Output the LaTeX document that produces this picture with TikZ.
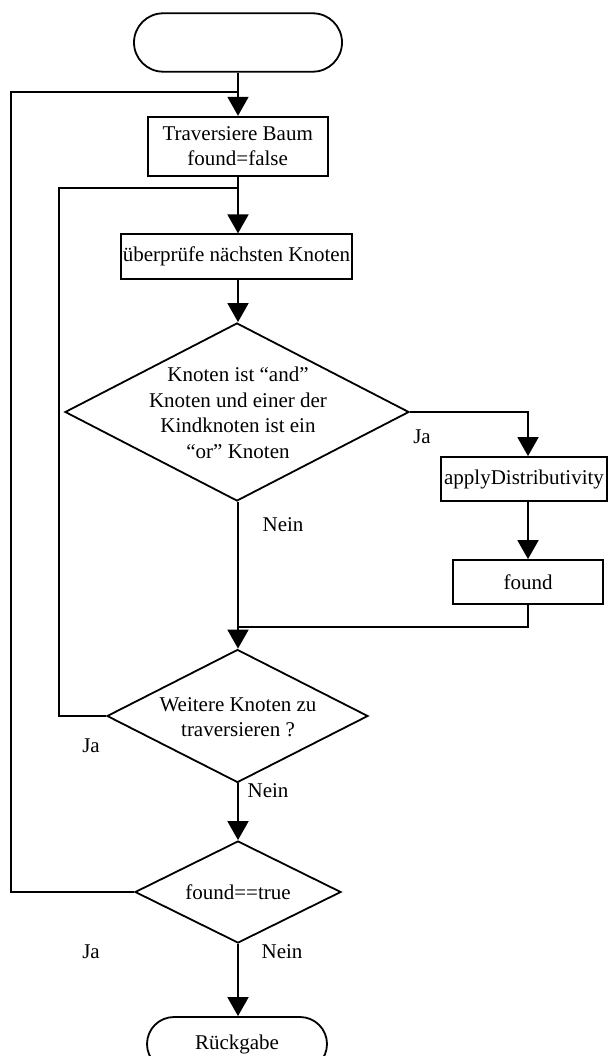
\documentclass[tikz,border=0pt]{standalone}
\usepackage{fontspec}
\setmainfont{Liberation Serif}
\usetikzlibrary{arrows.meta,shapes.geometric}
\begin{document}
\begin{tikzpicture}[x=1pt,y=-1pt,
  every node/.style={font=\fontsize{21}{25.5}\selectfont, inner sep=0pt},
  line/.style={line width=1.8pt, line join=miter},
  arr/.style={line, -{Triangle[length=19pt,width=21pt]}},
  stepbox/.style={draw, line width=1.8pt, rectangle, align=center},
  term/.style={draw, line width=1.8pt, rectangle},
  decision/.style={draw, line width=1.8pt, diamond, inner sep=0pt},
  lbl/.style={}]
\useasboundingbox (0,0) rectangle (608,1056);
\clip (0,0) rectangle (608,1056);

% start / end terminals
\node[term, minimum width=208pt, minimum height=58.4pt, rounded corners=29.2pt] (start) at (238,42.5) {};
\node[term, minimum width=180pt, minimum height=54pt, rounded corners=27pt] (ret) at (237,1044) {Rückgabe};

% process boxes
\node[stepbox, minimum width=180pt, minimum height=59pt] (trav) at (237.7,146.2) {Traversiere Baum\\found=false};
\node[stepbox, minimum width=231pt, minimum height=45pt] (check) at (236.5,256.8) {überprüfe nächsten Knoten};
\node[stepbox, minimum width=166pt, minimum height=44pt] (apply) at (524,479) {applyDistributivity};
\node[stepbox, minimum width=150pt, minimum height=44pt] (found) at (528,582) {found};

% decisions
\node[decision, minimum width=344pt, minimum height=178pt] (d1) at (237,412) {};
\node[align=center] (d1txt) at (238,413) {Knoten ist “and”\\Knoten und einer der\\Kindknoten ist ein\\“or” Knoten};
\node[decision, minimum width=261pt, minimum height=133pt] (d2) at (237.5,716) {};
\node[align=center] (d2txt) at (238,717) {Weitere Knoten zu\\traversieren ?};
\node[decision, minimum width=206pt, minimum height=102pt] (fd) at (238,892) {};
\node (fdtxt) at (238,892) {found==true};

% junction points
\coordinate (j1) at (238,91.7);
\coordinate (j2) at (238,187.7);
\coordinate (j3) at (238,627);

% branch labels
\node[lbl] (ja1) at (422,437) {Ja};
\node[lbl] (nein1) at (283,525) {Nein};
\node[lbl] (ja2) at (91,746) {Ja};
\node[lbl] (nein2) at (268,791) {Nein};
\node[lbl] (ja3) at (91,952) {Ja};
\node[lbl] (nein3) at (282,952) {Nein};

% main flow
\draw[arr] (start.south) -- (trav.north -| start.south);
\draw[arr] (trav.south -| start.south) -- (check.north -| start.south);
\draw[arr] (check.south -| start.south) -- (d1.north -| start.south);
\draw[arr] (d1.south -| start.south) -- (d2.north -| start.south);
\draw[arr] (d2.south -| start.south) -- (fd.north -| start.south);
\draw[arr] (fd.south -| start.south) -- (ret.north -| start.south);

% yes branch of the first decision
\draw[arr] (d1.east) -| ([xshift=4pt]apply.north);
\draw[arr] (found.north |- apply.south) -- (found.north);
\draw[line] (found.south) |- (j3);

% loops back
\draw[line] (d2.west) -| (59,187.7) -- (j2);
\draw[line] (fd.west) -| (11,91.7) -- (j1);
\end{tikzpicture}
\end{document}
